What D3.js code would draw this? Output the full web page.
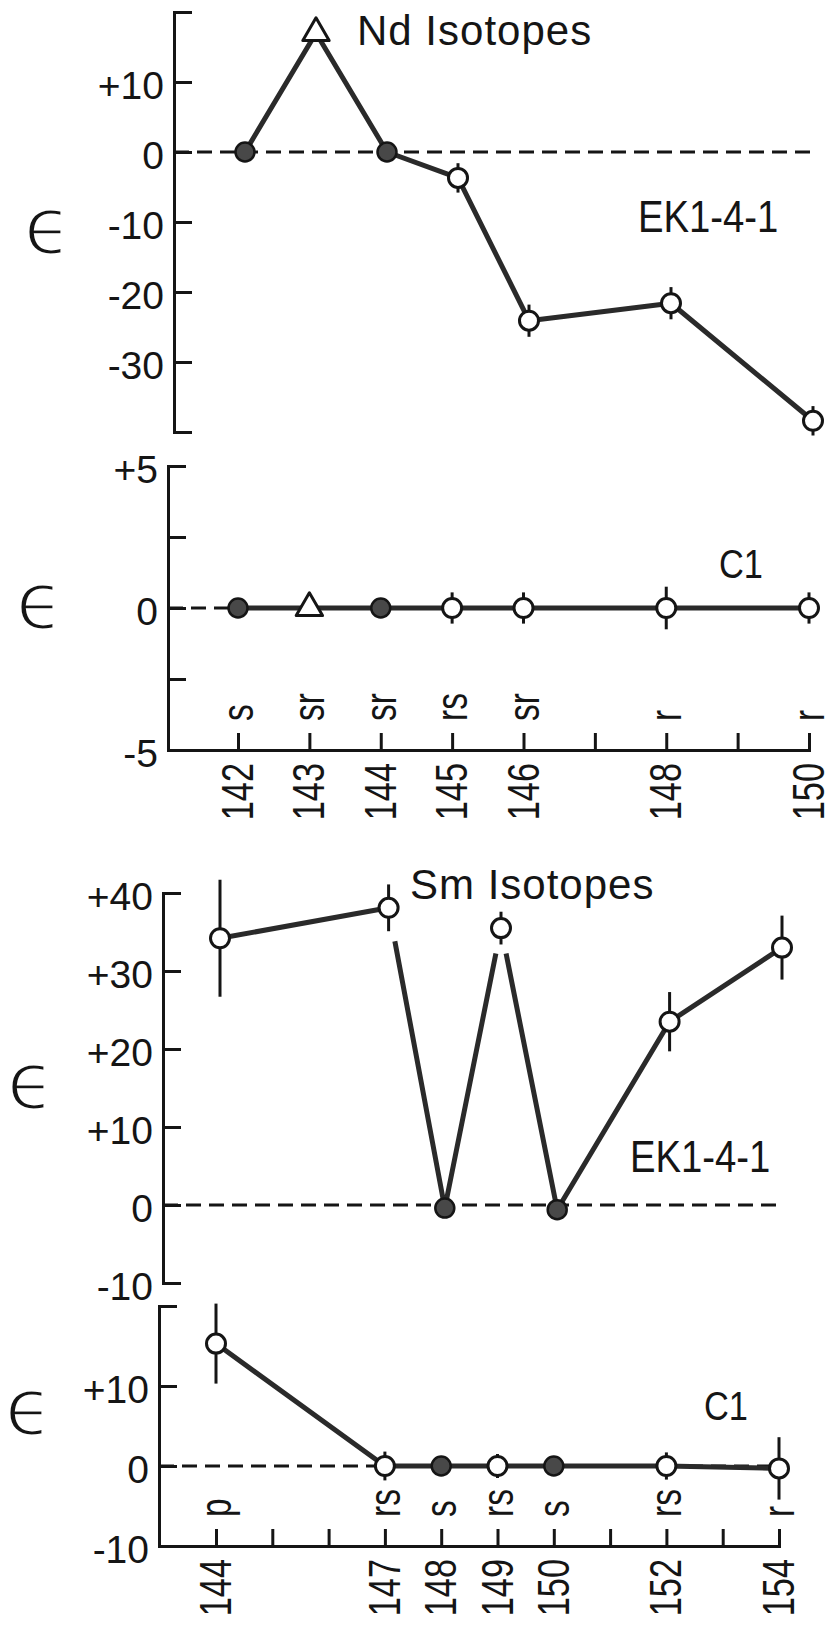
<!DOCTYPE html>
<html>
<head>
<meta charset="utf-8">
<script src="https://cdn.jsdelivr.net/npm/d3@7"></script>
<style>
  html, body { margin: 0; padding: 0; background: #fff; }
  svg { display: block; }
</style>
</head>
<body>
<svg id="fig" width="834" height="1627"></svg>
<script>
// ---------------- Nd isotopes ----------------
const ndMasses   = [142, 143, 144, 145, 146, 148, 150];
const ndProcess  = ["s", "sr", "sr", "rs", "sr", "r", "r"];
const ndMarkers  = ["filled", "triangle", "filled", "open", "open", "open", "open"];
const ndEK       = [0, 17, 0, -3.7, -24.1, -21.6, -38.4];
const ndEKErr    = [0, 0, 0, 2.1, 2.3, 2.3, 2.1];
const ndC1       = [0, 0, 0, 0, 0, 0, 0];
const ndC1Err    = [0, 0, 0, 0.55, 0.55, 0.75, 0.55];
const ndAxisTicks = [142, 143, 144, 145, 146, 147, 148, 149, 150];
const ndEKTicks  = [-30, -20, -10, 0, 10];
const ndEKTickLabels = ["-30", "-20", "-10", "0", "+10"];
const ndC1Ticks  = [-5, -2.5, 0, 2.5, 5];
const ndC1TickLabels = ["-5", "", "0", "", "+5"];

// ---------------- Sm isotopes ----------------
const smMasses   = [144, 147, 148, 149, 150, 152, 154];
const smProcess  = ["p", "rs", "s", "rs", "s", "rs", "r"];
const smMarkers  = ["open", "open", "filled", "open", "filled", "open", "open"];
const smEK       = [34.2, 38.1, -0.4, 35.5, -0.6, 23.5, 33];
const smEKErr    = [7.5, 3, 0, 2.1, 0, 3.8, 4.1];
const smC1       = [15.3, 0, 0, 0, 0, 0, -0.3];
const smC1Err    = [5, 1.8, 0, 1.5, 0, 1.7, 3.9];
const smAxisTicks = [144, 145, 146, 147, 148, 149, 150, 151, 152, 153, 154];
const smEKTicks  = [-10, 0, 10, 20, 30, 40];
const smEKTickLabels = ["-10", "0", "+10", "+20", "+30", "+40"];
const smC1Ticks  = [-10, 0, 10, 20];
const smC1TickLabels = ["-10", "0", "+10", ""];

const INK = "#151515";
const FONT = "'Liberation Sans', Arial, Helvetica, sans-serif";
const svg = d3.select("#fig");

// Horizontal (or rotated) text, optionally condensed along its reading direction
function label(g, str, x, y, opt = {}) {
  const t = g.append("text")
    .attr("transform", `translate(${x},${y}) rotate(${opt.rotate || 0}) scale(${opt.sx || 1},1)`)
    .attr("font-family", opt.family || FONT)
    .attr("font-size", opt.size || 40)
    .attr("text-anchor", opt.anchor || "start")
    .attr("fill", INK)
    .text(str);
  if (opt.spacing) t.attr("letter-spacing", opt.spacing);
  if (opt.baseline) t.attr("dominant-baseline", opt.baseline);
  return t;
}

function drawPanel(p) {
  const g = svg.append("g");
  const first = p.masses[0], last = p.masses[p.masses.length - 1];
  const x = d3.scaleLinear().domain([first, last]).range(p.xRange);
  const y = d3.scaleLinear().domain(p.yDomain).range(p.yRange);

  // zero reference line
  g.append("line")
    .attr("x1", p.axisX).attr("x2", x(last) + (p.zeroExtend || 0))
    .attr("y1", y(0)).attr("y2", y(0))
    .attr("stroke", INK).attr("stroke-width", 3)
    .attr("stroke-dasharray", "15 8");

  // y axis: ticks point into the plot, labels on the left
  const labelOf = new Map(p.yTicks.map((v, i) => [v, p.yTickLabels[i]]));
  const yAxis = d3.axisLeft(y)
    .tickValues(p.yTicks)
    .tickFormat(d => labelOf.get(d))
    .tickSizeInner(-18).tickSizeOuter(-18).tickPadding(10);
  const ya = g.append("g").attr("transform", `translate(${p.axisX},0)`).call(yAxis);
  ya.selectAll("path, line").attr("stroke", INK).attr("stroke-width", 3);
  ya.selectAll("text")
    .attr("font-family", FONT).attr("font-size", 39)
    .attr("fill", INK).attr("dy", "0.42em");

  // x axis with mass numbers and process letters
  if (p.xTicks) {
    const axisY = p.yRange[0];
    const xa = x.copy().domain([x.invert(p.axisX), last]).range([p.axisX, x(last)]);
    const xAxis = d3.axisBottom(xa).tickValues(p.xTicks).tickFormat("")
      .tickSizeInner(-17).tickSizeOuter(-17);
    const xg = g.append("g").attr("transform", `translate(0,${axisY})`).call(xAxis);
    xg.selectAll("path, line").attr("stroke", INK).attr("stroke-width", 3);

    p.masses.forEach((m, i) => {
      label(g, String(m), x(m) + 15, axisY + 13, { rotate: -90, sx: 0.78, size: 44, anchor: "end" });
      label(g, p.process[i], x(m) + 15, axisY - 29, { rotate: -90, sx: 0.76, size: 44, anchor: "start" });
    });
  }

  const pts = p.masses.map((m, i) => [x(m), y(p.values[i])]);

  // connecting line, split where an end stops short of its point
  const pieces = [];
  let cur = [pts[0]];
  for (let i = 0; i < pts.length - 1; i++) {
    const a = pts[i], b = pts[i + 1];
    const key = `${p.masses[i]}>${p.masses[i + 1]}`;
    const [ts, te] = (p.lineTrim && p.lineTrim[key]) || [0, 0];
    const dx = b[0] - a[0], dy = b[1] - a[1], L = Math.hypot(dx, dy);
    const a2 = [a[0] + dx * ts / L, a[1] + dy * ts / L];
    const b2 = [b[0] - dx * te / L, b[1] - dy * te / L];
    if (ts > 0) { if (cur.length > 1) pieces.push(cur); cur = [a2]; }
    cur.push(b2);
    if (te > 0) { pieces.push(cur); cur = [b]; }
  }
  if (cur.length > 1) pieces.push(cur);
  g.selectAll(".series").data(pieces).join("path")
    .attr("class", "series")
    .attr("d", d3.line())
    .attr("fill", "none").attr("stroke", "#2a2a2a")
    .attr("stroke-width", 5).attr("stroke-linejoin", "round");

  // error bars
  p.masses.forEach((m, i) => {
    const e = p.errors[i];
    if (!e) return;
    g.append("line")
      .attr("x1", x(m)).attr("x2", x(m))
      .attr("y1", y(p.values[i] - e)).attr("y2", y(p.values[i] + e))
      .attr("stroke", INK).attr("stroke-width", 3);
  });

  // markers
  p.masses.forEach((m, i) => {
    const kind = p.markers[i];
    const cx = x(m), cy = y(p.values[i]);
    if (kind === "triangle") {
      g.append("path")
        .attr("d", d3.symbol(d3.symbolTriangle, 300)())
        .attr("transform", `translate(${cx},${cy})`)
        .attr("fill", "#fff").attr("stroke", INK).attr("stroke-width", 3)
        .attr("stroke-linejoin", "round");
    } else {
      g.append("circle")
        .attr("cx", cx).attr("cy", cy).attr("r", 9.5)
        .attr("fill", kind === "filled" ? "#484848" : "#fff")
        .attr("stroke", INK).attr("stroke-width", kind === "filled" ? 2.5 : 3);
    }
  });

  // sample name and epsilon axis symbol (a white outline thins the glyph's stroke)
  label(g, p.name, p.nameAt[0], p.nameAt[1], { size: p.nameSize, sx: p.nameSx });
  label(g, "\u03F5", p.epsAt[0], p.epsAt[1],
    { size: 80, anchor: "middle", baseline: "central", family: "'DejaVu Sans', sans-serif" })
    .attr("stroke", "#fff").attr("stroke-width", 3);
  if (p.title) label(g, p.title, p.titleAt[0], p.titleAt[1], { size: 42, spacing: 1 });
}

const panels = [
  { masses: ndMasses, values: ndEK, errors: ndEKErr, markers: ndMarkers,
    yDomain: [-40, 20], yRange: [432, 12], axisX: 174, xRange: [245, 813], zeroExtend: 2,
    yTicks: ndEKTicks, yTickLabels: ndEKTickLabels,
    name: "EK1-4-1", nameAt: [638, 232], nameSize: 44, nameSx: 0.87,
    epsAt: [48, 226], title: "Nd Isotopes", titleAt: [357, 45] },
  { masses: ndMasses, values: ndC1, errors: ndC1Err, markers: ndMarkers,
    yDomain: [-5, 5], yRange: [750, 466], axisX: 168, xRange: [238, 809],
    yTicks: ndC1Ticks, yTickLabels: ndC1TickLabels, xTicks: ndAxisTicks, process: ndProcess,
    name: "C1", nameAt: [719, 578], nameSize: 40, nameSx: 0.86,
    epsAt: [40, 601] },
  { masses: smMasses, values: smEK, errors: smEKErr, markers: smMarkers,
    yDomain: [-10, 40], yRange: [1283, 893], axisX: 163, xRange: [220, 782], zeroExtend: -4,
    yTicks: smEKTicks, yTickLabels: smEKTickLabels,
    lineTrim: { "147>148": [34, 0], "148>149": [0, 26], "149>150": [26, 0] },
    name: "EK1-4-1", nameAt: [630, 1172], nameSize: 44, nameSx: 0.87,
    epsAt: [31, 1081], title: "Sm Isotopes", titleAt: [410, 899] },
  { masses: smMasses, values: smC1, errors: smC1Err, markers: smMarkers,
    yDomain: [-10, 20], yRange: [1546, 1306], axisX: 159, xRange: [216, 779],
    yTicks: smC1Ticks, yTickLabels: smC1TickLabels, xTicks: smAxisTicks, process: smProcess,
    name: "C1", nameAt: [704, 1420], nameSize: 40, nameSx: 0.86,
    epsAt: [29, 1407] }
];

panels.forEach(drawPanel);
</script>
</body>
</html>
